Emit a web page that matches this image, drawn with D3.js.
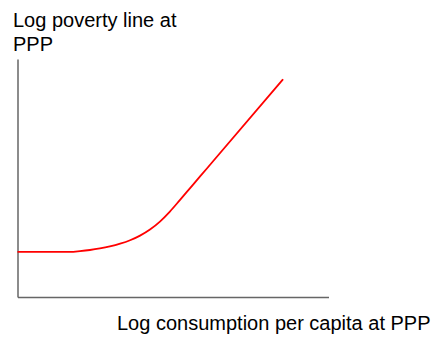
<!DOCTYPE html>
<html>
<head>
<meta charset="utf-8">
<script src="https://cdn.jsdelivr.net/npm/d3@7"></script>
<style>
  html, body { margin: 0; padding: 0; background: #fff; }
  svg { display: block; }
  text { font-family: "Liberation Sans", Arial, Helvetica, sans-serif; fill: #000; }
</style>
</head>
<body>
<svg id="chart" width="443" height="338"></svg>
<script>
// Stylised poverty line schedule: flat at the bottom, then rising with consumption
const consumption = [0, 16.9, 20.1, 23.3, 26.5, 29.7, 33.0, 36.2, 39.4, 42.6, 45.8, 49.0, 52.2, 55.5, 58.7, 62.4, 85.4];
const povertyLine = [19.0, 19.0, 19.3, 19.75, 20.4, 21.25, 22.4, 23.85, 25.8, 28.35, 31.7, 35.9, 40.7, 45.75, 50.65, 56.3, 91.5];

const yTitle = ["Log poverty line at", "PPP"];
const xTitle = "Log consumption per capita at PPP";

const svg = d3.select("#chart");

const x = d3.scaleLinear().domain([0, 100]).range([17.5, 328.5]);
const y = d3.scaleLinear().domain([0, 100]).range([297, 59]);

// Axes: plain lines, no ticks
const axisColor = "#666";
svg.append("g")
  .attr("transform", `translate(0,${y(0)})`)
  .call(d3.axisBottom(x).tickValues([]).tickSizeOuter(0))
  .call(g => g.select(".domain").attr("stroke", axisColor).attr("stroke-width", 1.5));
svg.append("g")
  .attr("transform", `translate(${x(0)},0)`)
  .call(d3.axisLeft(y).tickValues([]).tickSizeOuter(0))
  .call(g => g.select(".domain").attr("stroke", axisColor).attr("stroke-width", 1.5));

const pts = consumption.map((c, i) => [c, povertyLine[i]]);
svg.append("path")
  .datum(pts)
  .attr("fill", "none")
  .attr("stroke", "#ff0000")
  .attr("stroke-width", 1.8)
  .attr("d", d3.line().x(d => x(d[0])).y(d => y(d[1])).curve(d3.curveMonotoneX));

// Axis titles
svg.append("text")
  .attr("font-size", 20)
  .selectAll("tspan")
  .data(yTitle)
  .join("tspan")
  .attr("x", 13)
  .attr("y", (d, i) => 27 + i * 24.3)
  .text(d => d);

svg.append("text")
  .attr("x", 117)
  .attr("y", 330)
  .attr("font-size", 20)
  .text(xTitle);
</script>
</body>
</html>
